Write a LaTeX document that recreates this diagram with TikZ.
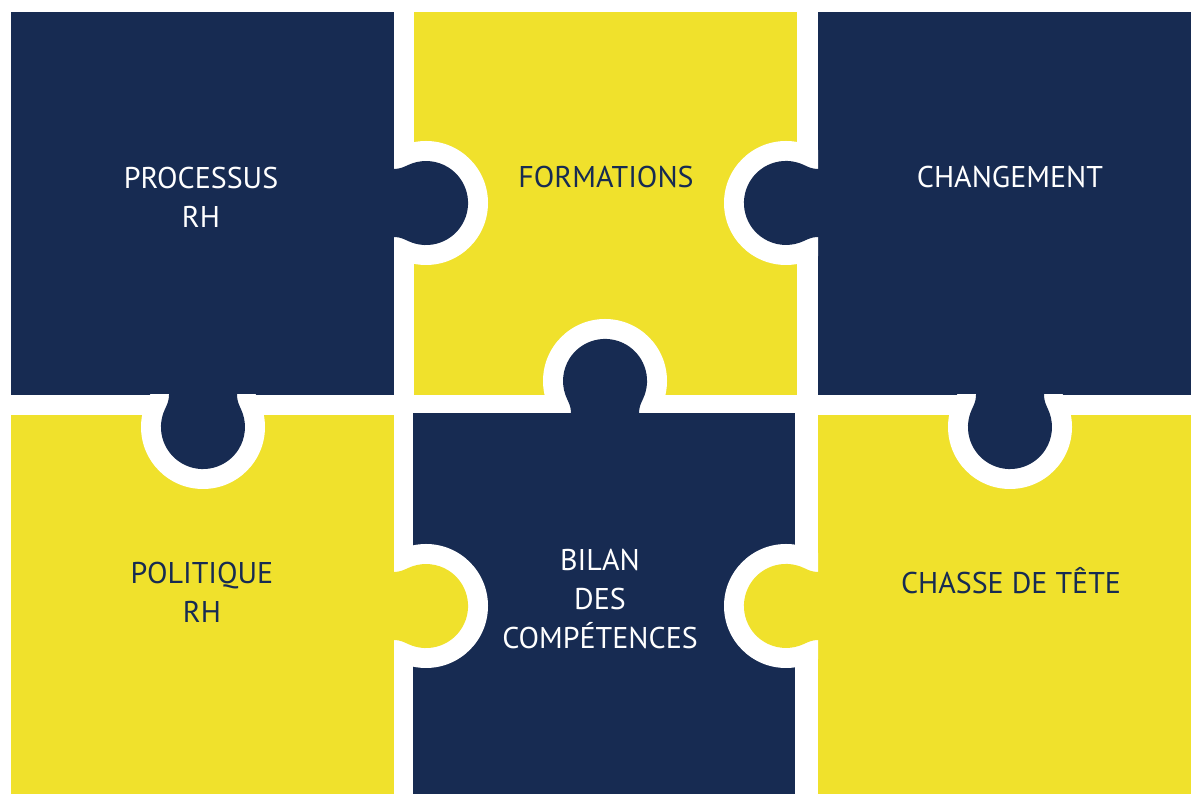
\documentclass[tikz,border=0pt]{standalone}
\usepackage{fontspec}
\setmainfont{PT Sans}
\usepackage{tikz}
\definecolor{navy}{HTML}{172B52}
\definecolor{lemon}{HTML}{F0E12C}
\newcommand{\knob}[4]{%
  \begin{scope}[shift={(#1,#2)},rotate=#3]
    \begin{scope}
      \clip (-32,-70) rectangle (70,70);
      \fill[white] (0,0) circle[radius=62];
    \end{scope}
    \fill[#4] (-34,-34) -- (-32,-34) .. controls (-26,-34) and (-22.2,-36) .. (-17.7,-38.1)
      arc[start angle=-115,end angle=115,radius=42]
      .. controls (-22.2,36) and (-26,34) .. (-32,34) -- (-34,34) -- cycle;
  \end{scope}}

\begin{document}
\begin{tikzpicture}[x=1pt,y=1pt,
  word/.style={font=\fontsize{30}{39}\selectfont, align=center, anchor=base, inner sep=0pt}]
\useasboundingbox (0,0) rectangle (1191,794);
\fill[white] (0,0) rectangle (1191,794);
\fill[navy] (11,399) rectangle (394,782);
\fill[lemon] (414,399) rectangle (797,782);
\fill[navy] (818,399) rectangle (1191,782);
\fill[lemon] (11,0) rectangle (394,379);
\fill[navy] (413,0) rectangle (795,381);
\fill[lemon] (818,0) rectangle (1191,379);
\knob{426}{591}{0}{navy}
\knob{786}{591}{180}{navy}
\knob{605}{413}{90}{navy}
\knob{203}{367}{-90}{navy}
\knob{1010}{367}{-90}{navy}
\knob{426}{188}{0}{lemon}
\knob{786}{188}{180}{lemon}
\node[word, text=white] (processus) at (201,566) {PROCESSUS\\RH};
\node[word, text=navy] (formations) at (606,606) {FORMATIONS};
\node[word, text=white] (changement) at (1010,606) {CHANGEMENT};
\node[word, text=navy] (politique) at (202,171) {POLITIQUE\\RH};
\node[word, text=white] (bilan) at (600,145) {BILAN\\DES\\COMPÉTENCES};
\node[word, text=navy] (chasse) at (1011,200) {CHASSE DE TÊTE};
\end{tikzpicture}
\end{document}
